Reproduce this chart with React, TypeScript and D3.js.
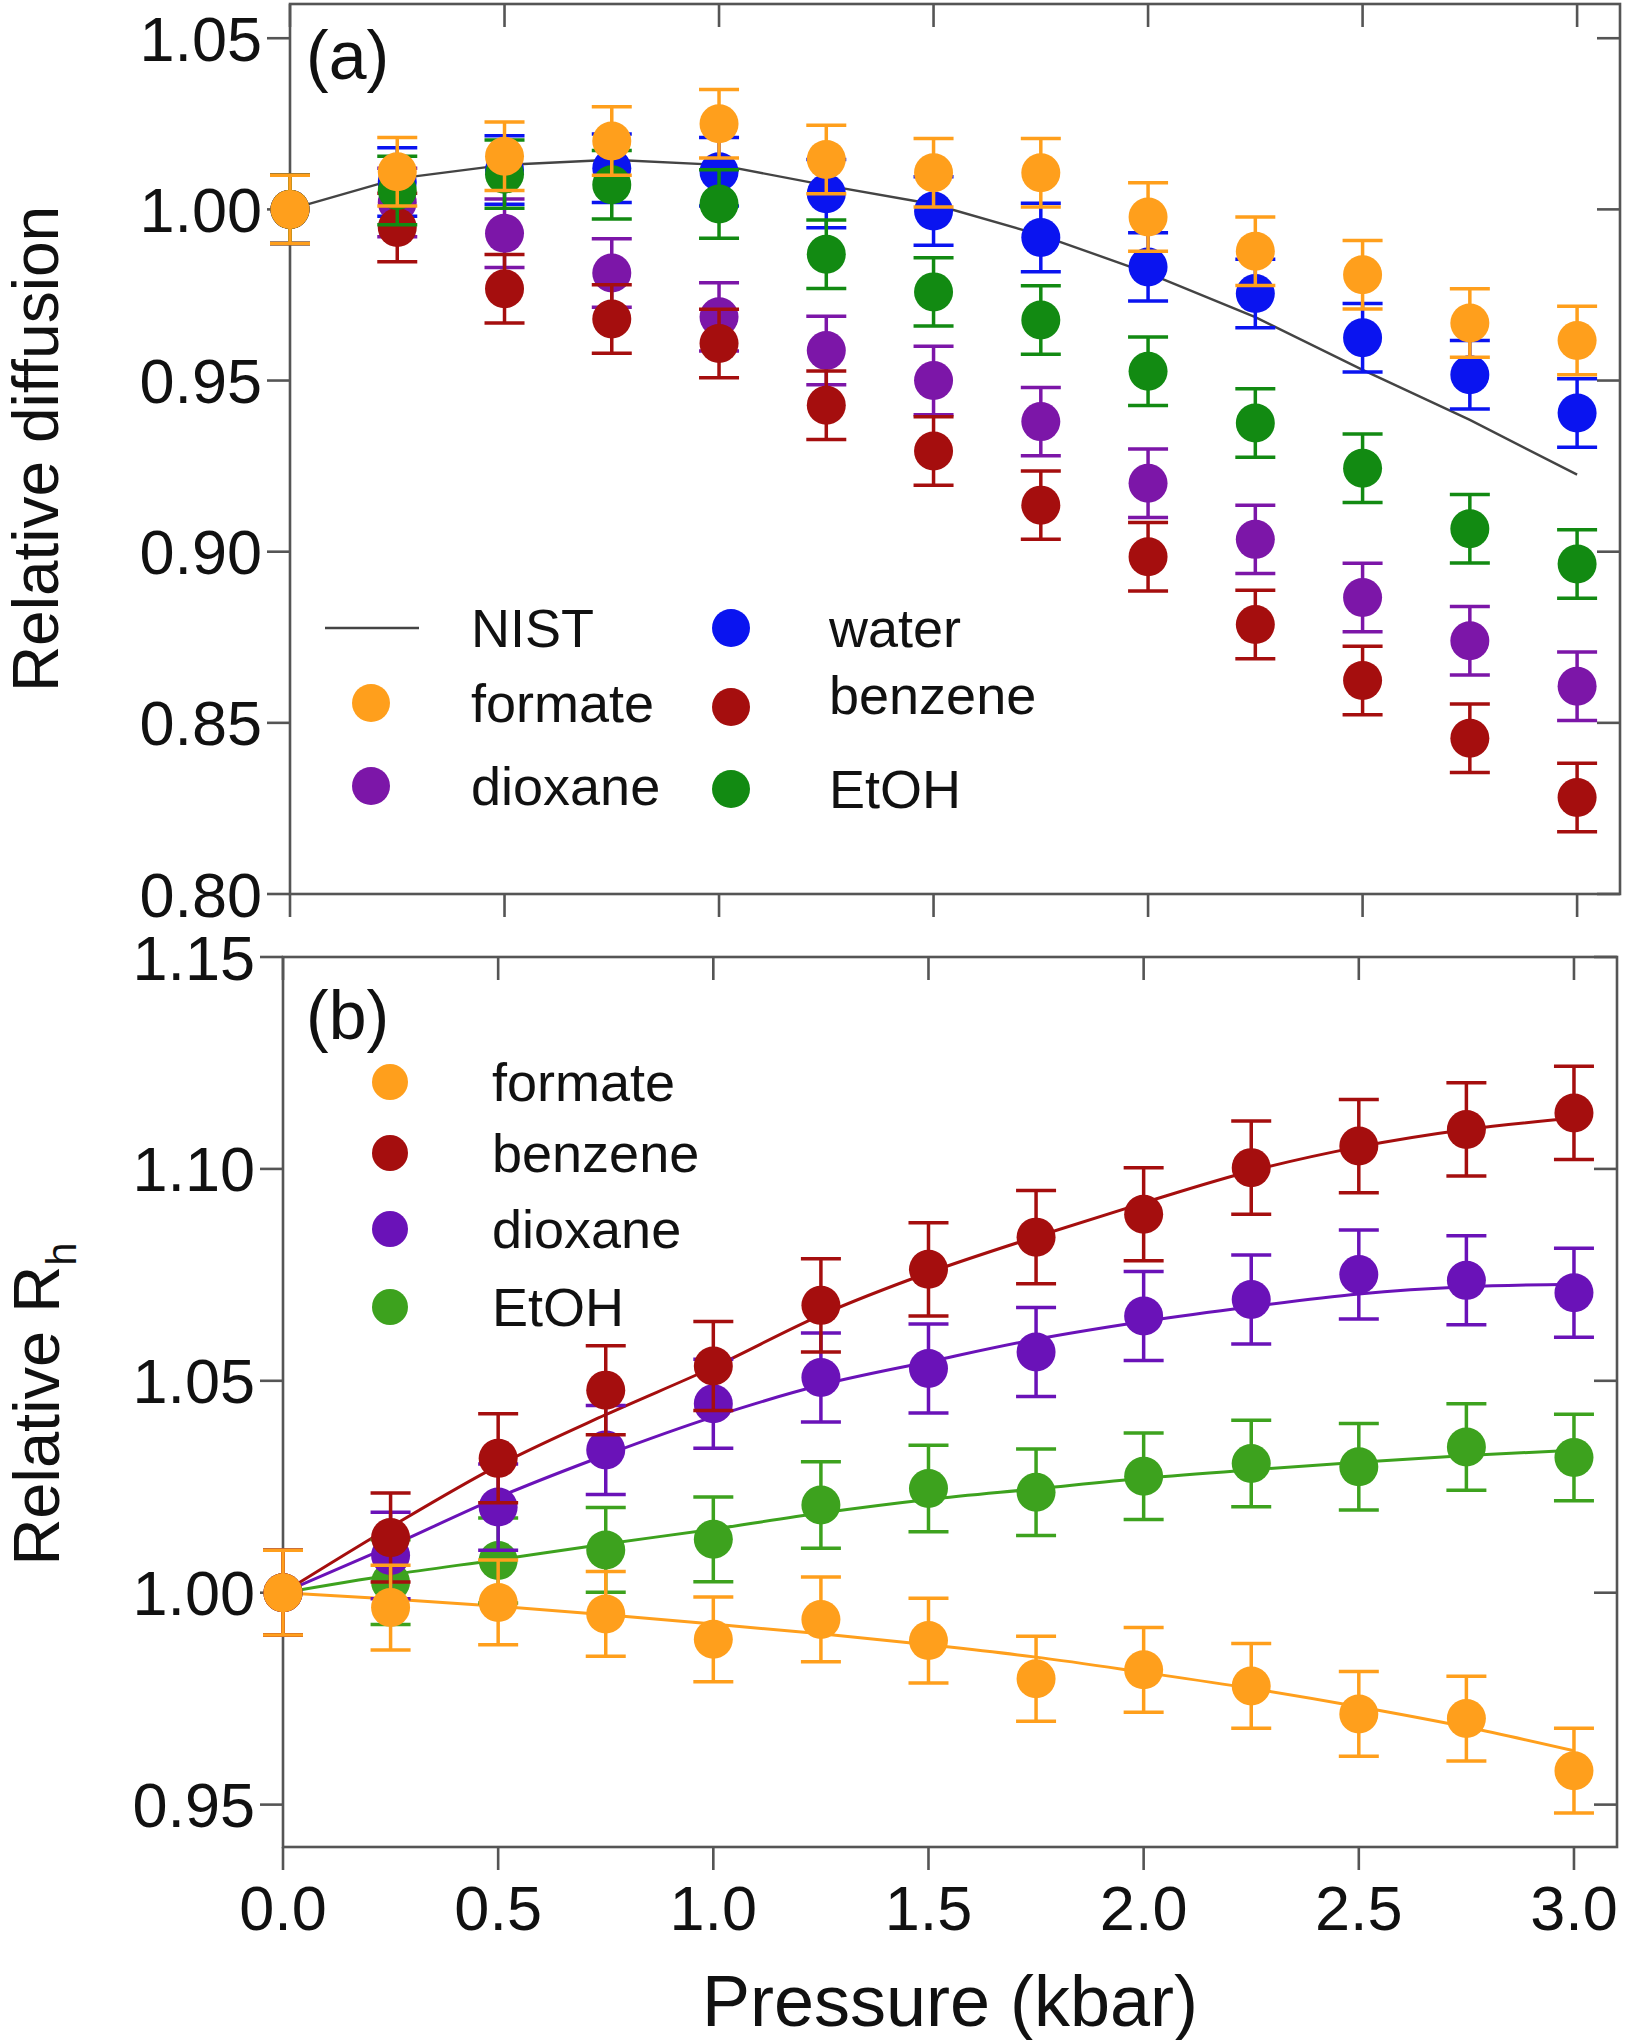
import React from 'react';
import * as d3 from 'd3';

// ---------- data ----------
const pressure = [0, 0.25, 0.5, 0.75, 1.0, 1.25, 1.5, 1.75, 2.0, 2.25, 2.5, 2.75, 3.0];

// panel (a): relative diffusion
const nistA = [1.0, 1.009, 1.013, 1.0145, 1.013, 1.007, 1.0015, 0.9925, 0.9814, 0.9685, 0.9531, 0.9385, 0.9225];
const formateA = [1.0, 1.011, 1.0155, 1.02, 1.025, 1.0146, 1.0107, 1.0107, 0.9978, 0.9878, 0.9809, 0.9668, 0.9617];
const waterA = [1.0, 1.008, 1.0115, 1.012, 1.011, 1.0046, 0.9995, 0.9918, 0.9832, 0.9754, 0.9625, 0.9517, 0.9405];
const ethanolA = [1.0, 1.0055, 1.0103, 1.0072, 1.0016, 0.9869, 0.9759, 0.9677, 0.9527, 0.9376, 0.9244, 0.9067, 0.8964];
const dioxaneA = [1.0, 1.002, 0.993, 0.9814, 0.9686, 0.9588, 0.95, 0.938, 0.92, 0.9036, 0.8866, 0.874, 0.8607];
const benzeneA = [1.0, 0.9947, 0.9768, 0.968, 0.9608, 0.9428, 0.9294, 0.9136, 0.8985, 0.8787, 0.8624, 0.8455, 0.8282];
const errA = [0.01, 0.01, 0.01, 0.01, 0.01, 0.01, 0.01, 0.01, 0.01, 0.01, 0.01, 0.01, 0.01];

// panel (b): relative Rh
const formateB = [1.0, 0.9965, 0.9977, 0.995, 0.989, 0.9937, 0.9887, 0.9797, 0.9818, 0.978, 0.9714, 0.9703, 0.958];
const benzeneB = [1.0, 1.013, 1.0317, 1.0478, 1.0535, 1.0678, 1.0763, 1.0839, 1.0893, 1.1003, 1.1054, 1.1093, 1.1132];
const dioxaneB = [1.0, 1.0088, 1.0202, 1.0337, 1.0446, 1.0508, 1.0529, 1.0568, 1.0653, 1.0692, 1.0751, 1.0737, 1.0708];
const ethanolB = [1.0, 1.0025, 1.0076, 1.0101, 1.0126, 1.0207, 1.0246, 1.0237, 1.0275, 1.0305, 1.0297, 1.0344, 1.0319];
const formateErrB = [0.01, 0.01, 0.01, 0.01, 0.01, 0.01, 0.01, 0.01, 0.01, 0.01, 0.01, 0.01, 0.01];
const benzeneErrB = [0.01, 0.0105, 0.0105, 0.0105, 0.0105, 0.011, 0.011, 0.011, 0.011, 0.011, 0.011, 0.011, 0.011];
const dioxaneErrB = [0.01, 0.0102, 0.0102, 0.0105, 0.0105, 0.0105, 0.0105, 0.0105, 0.0105, 0.0105, 0.0105, 0.0105, 0.0105];
const ethanolErrB = [0.01, 0.01, 0.01, 0.01, 0.01, 0.0102, 0.0102, 0.0102, 0.0102, 0.0102, 0.0102, 0.0102, 0.0102];
const formateFit = [1.0, 0.9985, 0.9968, 0.9948, 0.9926, 0.9903, 0.9877, 0.9848, 0.9812, 0.9774, 0.9731, 0.9683, 0.9627];
const benzeneFit = [1.0, 1.0155, 1.03, 1.042, 1.0532, 1.0655, 1.0755, 1.084, 1.092, 1.0995, 1.1052, 1.1093, 1.112];
const dioxaneFit = [1.0, 1.011, 1.0225, 1.0325, 1.0415, 1.049, 1.0545, 1.0598, 1.064, 1.0675, 1.0705, 1.0722, 1.0728];
const ethanolFit = [1.0, 1.0042, 1.0078, 1.0115, 1.015, 1.0188, 1.022, 1.0245, 1.027, 1.029, 1.0308, 1.0324, 1.0336];

const xTicks = [0, 0.5, 1.0, 1.5, 2.0, 2.5, 3.0];
const yTicksA = [0.8, 0.85, 0.9, 0.95, 1.0, 1.05];
const yTicksB = [0.95, 1.0, 1.05, 1.1, 1.15];

// ---------- style ----------
const FONT = '"Liberation Sans", Arial, Helvetica, sans-serif';
const TEXT_STYLE: React.CSSProperties = { fontVariantLigatures: 'none', fontFeatureSettings: '"liga" 0, "clig" 0' };
const AXIS = '#555555';
const C = {
  formate: '#FF9F1C',
  water: '#0A14F0',
  benzene: '#A50E0E',
  dioxaneA: '#7C16A8',
  ethanolA: '#128A12',
  dioxaneB: '#6A12B8',
  ethanolB: '#3DA21E',
  nist: '#444444',
};

type Scale = d3.ScaleLinear<number, number>;

function Series({ xs, ys, err, x, y, color, r = 19.5 }: { xs: number[]; ys: number[]; err: number[]; x: Scale; y: Scale; color: string; r?: number }) {
  const cap = 20;
  return (
    <g>
      {xs.map((p, i) => {
        const cx = x(p);
        const cy = y(ys[i]);
        const top = y(ys[i] + err[i]);
        const bot = y(ys[i] - err[i]);
        return (
          <g key={i}>
            <line x1={cx} x2={cx} y1={top} y2={bot} stroke={color} strokeWidth={3.5} />
            <line x1={cx - cap} x2={cx + cap} y1={top} y2={top} stroke={color} strokeWidth={3.5} />
            <line x1={cx - cap} x2={cx + cap} y1={bot} y2={bot} stroke={color} strokeWidth={3.5} />
            <circle cx={cx} cy={cy} r={r} fill={color} />
          </g>
        );
      })}
    </g>
  );
}

function Frame({ x, y, yTicks, showXLabels }: { x: Scale; y: Scale; yTicks: number[]; showXLabels: boolean }) {
  const [x0, x1] = x.range();
  const [y0, y1] = y.range(); // y0 bottom, y1 top
  const tl = 23;
  return (
    <g>
      <rect x={x0} y={y1} width={x1 - x0} height={y0 - y1} fill="none" stroke={AXIS} strokeWidth={2.6} />
      {yTicks.map((t) => (
        <g key={'y' + t}>
          <line x1={x0 - tl} x2={x0} y1={y(t)} y2={y(t)} stroke={AXIS} strokeWidth={2.6} />
          <line x1={x1 - tl} x2={x1} y1={y(t)} y2={y(t)} stroke={AXIS} strokeWidth={2.6} />
          <text x={x0 - 28} y={y(t) + 22.5} fontSize={63} textAnchor="end" fontFamily={FONT} fill="#111" style={TEXT_STYLE}>
            {d3.format('.2f')(t)}
          </text>
        </g>
      ))}
      {xTicks.map((t) => (
        <g key={'x' + t}>
          <line x1={x(t)} x2={x(t)} y1={y0} y2={y0 + tl} stroke={AXIS} strokeWidth={2.6} />
          <line x1={x(t)} x2={x(t)} y1={y1} y2={y1 + tl} stroke={AXIS} strokeWidth={2.6} />
          {showXLabels && (
            <text x={x(t)} y={y0 + 83} fontSize={63} textAnchor="middle" fontFamily={FONT} fill="#111" style={TEXT_STYLE}>
              {d3.format('.1f')(t)}
            </text>
          )}
        </g>
      ))}
    </g>
  );
}

function LegendDot({ cx, cy, color, label, tx, r = 19, ty }: { cx: number; cy: number; color: string; label: string; tx: number; r?: number; ty?: number }) {
  return (
    <g>
      <circle cx={cx} cy={cy} r={r} fill={color} />
      <text x={tx} y={ty ?? cy + 19} fontSize={54} fontFamily={FONT} fill="#111" style={TEXT_STYLE}>{label}</text>
    </g>
  );
}

export default function App() {
  const xA = d3.scaleLinear().domain([0, 3.1]).range([290, 1620]);
  const yA = d3.scaleLinear().domain([0.8, 1.06]).range([894, 4]);
  const xB = d3.scaleLinear().domain([0, 3.1]).range([283, 1617]);
  const yB = d3.scaleLinear().domain([0.94, 1.15]).range([1847, 957]);

  const lineA = d3.line<number>().x((_, i) => xA(pressure[i])).y((d) => yA(d));
  const lineB = d3
    .line<number>()
    .x((_, i) => xB(pressure[i]))
    .y((d) => yB(d))
    .curve(d3.curveMonotoneX);

  return (
    <svg width={1626} height={2040} style={{ position: 'absolute', left: 0, top: 0, background: '#fff' }}>
      <rect width={1626} height={2040} fill="#fff" />

      {/* Panel (a) */}
      <Frame x={xA} y={yA} yTicks={yTicksA} showXLabels={false} />
      <path d={lineA(nistA) || ''} fill="none" stroke={C.nist} strokeWidth={2.4} />
      <Series xs={pressure} ys={waterA} err={errA} x={xA} y={yA} color={C.water} />
      <Series xs={pressure} ys={dioxaneA} err={errA} x={xA} y={yA} color={C.dioxaneA} />
      <Series xs={pressure} ys={benzeneA} err={errA} x={xA} y={yA} color={C.benzene} />
      <Series xs={pressure} ys={ethanolA} err={errA} x={xA} y={yA} color={C.ethanolA} />
      <Series xs={pressure} ys={formateA} err={errA} x={xA} y={yA} color={C.formate} />
      <text x={306} y={79} fontSize={68} fontFamily={FONT} fill="#111" style={TEXT_STYLE}>(a)</text>

      {/* legend (a) */}
      <line x1={325} x2={419} y1={628} y2={628} stroke={C.nist} strokeWidth={2.4} />
      <text x={471} y={647} fontSize={54} fontFamily={FONT} fill="#111" style={TEXT_STYLE}>NIST</text>
      <LegendDot cx={371} cy={703} color={C.formate} label="formate" tx={471} />
      <LegendDot cx={371} cy={786} color={C.dioxaneA} label="dioxane" tx={471} />
      <LegendDot cx={731} cy={628} color={C.water} label="water" tx={829} />
      <LegendDot cx={731} cy={707} color={C.benzene} label="benzene" tx={829} ty={714} />
      <LegendDot cx={731} cy={789} color={C.ethanolA} label="EtOH" tx={829} />

      <text transform="translate(58,449) rotate(-90)" textAnchor="middle" fontSize={64} fontFamily={FONT} fill="#111" style={TEXT_STYLE}>
        Relative diffusion
      </text>

      {/* Panel (b) */}
      <Frame x={xB} y={yB} yTicks={yTicksB} showXLabels={true} />
      <path d={lineB(ethanolFit) || ''} fill="none" stroke={C.ethanolB} strokeWidth={3} />
      <path d={lineB(dioxaneFit) || ''} fill="none" stroke={C.dioxaneB} strokeWidth={3} />
      <path d={lineB(benzeneFit) || ''} fill="none" stroke={C.benzene} strokeWidth={3} />
      <path d={lineB(formateFit) || ''} fill="none" stroke={C.formate} strokeWidth={3} />
      <Series xs={pressure} ys={ethanolB} err={ethanolErrB} x={xB} y={yB} color={C.ethanolB} />
      <Series xs={pressure} ys={dioxaneB} err={dioxaneErrB} x={xB} y={yB} color={C.dioxaneB} />
      <Series xs={pressure} ys={benzeneB} err={benzeneErrB} x={xB} y={yB} color={C.benzene} />
      <Series xs={pressure} ys={formateB} err={formateErrB} x={xB} y={yB} color={C.formate} />
      <text x={306} y={1039} fontSize={68} fontFamily={FONT} fill="#111" style={TEXT_STYLE}>(b)</text>

      {/* legend (b) */}
      <LegendDot cx={390} cy={1082} color={C.formate} label="formate" tx={492} r={18} />
      <LegendDot cx={390} cy={1153} color={C.benzene} label="benzene" tx={492} r={18} />
      <LegendDot cx={390} cy={1229} color={C.dioxaneB} label="dioxane" tx={492} r={18} />
      <LegendDot cx={390} cy={1307} color={C.ethanolB} label="EtOH" tx={492} r={18} />

      <text transform="translate(59,1404) rotate(-90)" textAnchor="middle" fontSize={65} fontFamily={FONT} fill="#111" style={TEXT_STYLE}>
        Relative R<tspan fontSize={42} dy={17}>h</tspan>
      </text>

      <text x={950} y={2026} textAnchor="middle" fontSize={72} fontFamily={FONT} fill="#111" style={TEXT_STYLE}>
        Pressure (kbar)
      </text>
    </svg>
  );
}
